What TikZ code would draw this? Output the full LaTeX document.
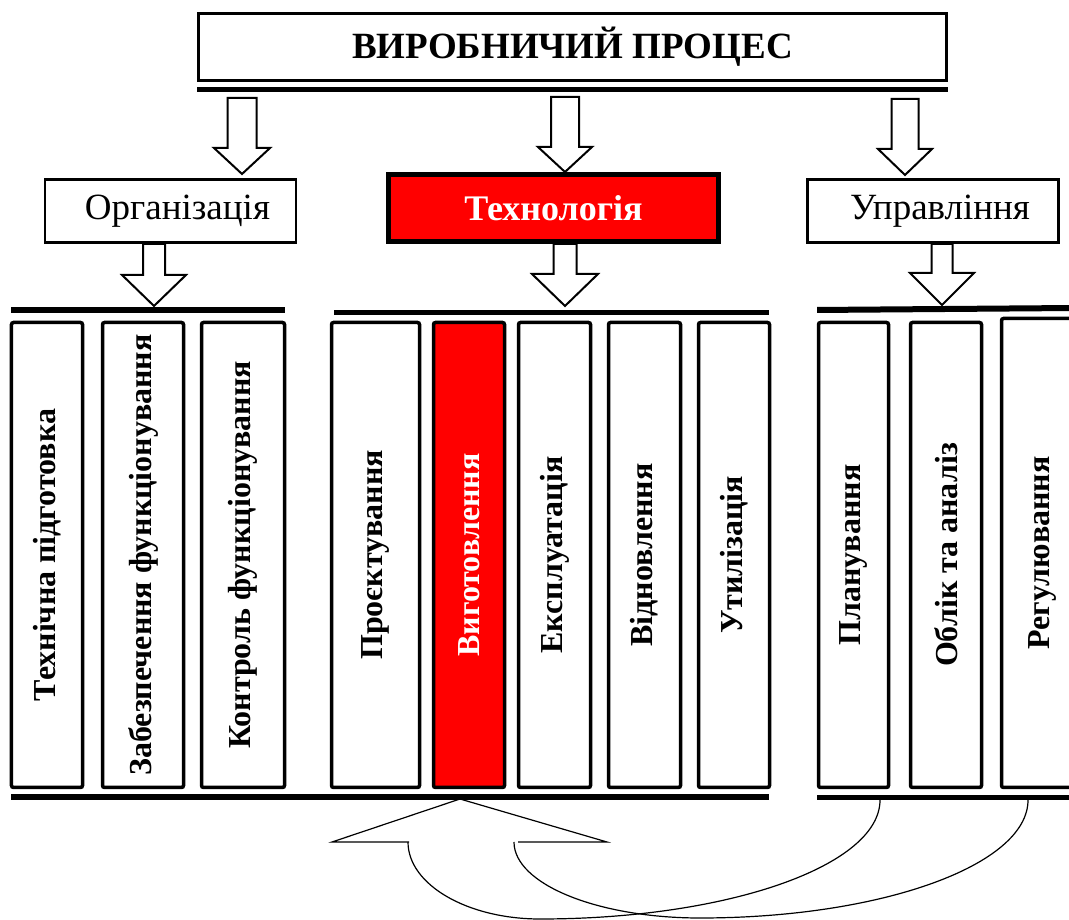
\documentclass[tikz,border=0pt]{standalone}
\usepackage{fontspec}
\setmainfont{Liberation Serif}
\usetikzlibrary{positioning}

\definecolor{techred}{RGB}{255,0,0}

\tikzset{
  topbox/.style={draw, line width=3bp, minimum width=748bp, minimum height=67bp, font=\fontsize{37bp}{40bp}\selectfont\bfseries},
  areabox/.style={draw, line width=2.5bp, minimum width=251bp, minimum height=63bp, inner sep=0pt, font=\fontsize{37bp}{40bp}\selectfont},
  techbox/.style={areabox, line width=5bp, fill=techred, text=white, font=\fontsize{36bp}{40bp}\selectfont\bfseries},
  stagebox/.style={draw, line width=3.5bp, rounded corners=2bp, rotate=90, minimum width=465bp, inner sep=0pt, font=\fontsize{32bp}{36bp}\selectfont\bfseries},
  hollow/.style={draw, line width=2bp, fill=white, line join=miter},
  thinline/.style={line width=1.2bp},
}

% centre x, top, start of head, tip, half shaft, half head
\newcommand{\hollowarrow}[6]{%
  \draw[hollow] (#1-#5,#2) -- (#1+#5,#2) -- (#1+#5,#3) -- (#1+#6,#3) -- (#1,#4)
    -- (#1-#6,#3) -- (#1-#5,#3) -- cycle;}

\begin{document}
\begin{tikzpicture}[x=1bp, y=1bp]
\useasboundingbox (0,0) rectangle (1069,920);

\node[topbox] (process) at (572.5,873) {ВИРОБНИЧИЙ ПРОЦЕС};
\fill (197,833) rectangle (948,828);

\hollowarrow{242}{822}{772}{746}{14.5}{28}
\hollowarrow{565}{823}{773}{748}{14}{27}
\hollowarrow{905}{821}{771}{745}{13.5}{27}

\node[areabox] (org) at (170.5,709) {\hspace*{14bp}Організація};
\node[techbox, minimum width=330bp, minimum height=67bp] (tech) at (553.5,712) {Технологія};
\node[areabox] (mgmt) at (933,709) {\hspace*{14bp}Управління};

\hollowarrow{154}{676}{645}{614}{11}{32}
\hollowarrow{565}{676}{646}{614}{11.5}{33}
\hollowarrow{942}{676}{647}{615}{10.5}{32}

\fill (11,613) rectangle (285,607);
\fill (334,610) rectangle (769,605);
\fill (817,613) -- (1075,615) -- (1075,609) -- (817,607) -- cycle;

\node[stagebox, minimum height=71bp] (prep) at (47,365) {Технічна підготовка};
\node[stagebox, minimum height=81bp] (supply) at (143,365) {Забезпечення функціонування};
\node[stagebox, minimum height=83bp] (control) at (243,365) {Контроль функціонування};
\node[stagebox, minimum height=88bp] (design) at (375.5,365) {Проєктування};
\node[stagebox, minimum height=71bp, fill=techred, text=white] (make) at (469,365) {Виготовлення};
\node[stagebox, minimum height=72bp] (use) at (554.5,365) {Експлуатація};
\node[stagebox, minimum height=72bp] (restore) at (644.5,365) {Відновлення};
\node[stagebox, minimum height=71bp] (recycle) at (734,365) {Утилізація};
\node[stagebox, minimum height=70bp] (plan) at (853.5,365) {Планування};
\node[stagebox, minimum height=71bp] (account) at (946,365) {Облік та аналіз};
\node[stagebox, minimum height=82bp, minimum width=469bp] (regulate) at (1042.5,367) {Регулювання};

\fill (11,126) rectangle (769,120);
\fill (817,125) rectangle (1075,120);

\coordinate (tip) at (460,121);
\draw[thinline] (409,78) -- (332,78) -- (tip) -- (607,78) -- (518,78);
\draw[thinline] (408,78) arc[start angle=180, end angle=270, x radius=132bp, y radius=77bp]
  arc[start angle=270, end angle=360, x radius=340bp, y radius=119bp];
\draw[thinline] (514,78) arc[start angle=180, end angle=270, x radius=186bp, y radius=76bp]
  arc[start angle=270, end angle=360, x radius=328bp, y radius=118bp];
\end{tikzpicture}
\end{document}
